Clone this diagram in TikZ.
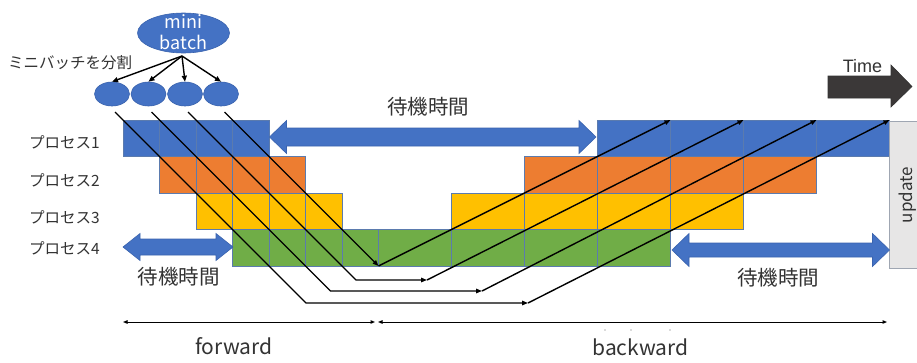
\documentclass[tikz,border=0pt]{standalone}
\usepackage{fontspec}
\setmainfont{Noto Sans CJK JP}
\newfontfamily\timefont{Liberation Sans}
\usetikzlibrary{arrows.meta,shapes.geometric}

\definecolor{pblue}{HTML}{4472C4}
\definecolor{pblueline}{HTML}{3A63AE}
\definecolor{porange}{HTML}{ED7D31}
\definecolor{pyellow}{HTML}{FFC000}
\definecolor{pgreen}{HTML}{70AD47}
\definecolor{cellline}{HTML}{5B7BAE}
\definecolor{darkarrow}{HTML}{3B3838}
\definecolor{updfill}{HTML}{E7E6E6}
\definecolor{updline}{HTML}{9FA6B2}
\definecolor{txt}{HTML}{333333}

% block double arrow: left tip x, right tip x, centre y, half head, half shaft
\newcommand\waitarrow[5]{%
  \path[blockarrow] (#1,#3) -- (#1+17,#3-#4) -- (#1+17,#3-#5) -- (#2-17,#3-#5)
    -- (#2-17,#3-#4) -- (#2,#3) -- (#2-17,#3+#4) -- (#2-17,#3+#5)
    -- (#1+17,#3+#5) -- (#1+17,#3+#4) -- cycle;}

\tikzset{
  cellbox/.style={draw=cellline, line width=0.8pt},
  blockarrow/.style={fill=pblue, draw=pblueline, line width=0.6pt},
  flow/.style={draw=black, line width=1.4pt, -{Triangle[length=6pt,width=4.5pt]}},
  dimline/.style={draw=black, line width=1pt, {Triangle[length=4.5pt,width=3.5pt]}-{Triangle[length=4.5pt,width=3.5pt]}},
  jtext/.style={text=txt, inner sep=0pt},
  smallmb/.style={ellipse, fill=pblue, draw=pblueline, line width=0.6pt,
    minimum width=35pt, minimum height=24pt, inner sep=0pt},
}

\begin{document}
\begin{tikzpicture}[x=1pt,y=-1pt]
\clip (0,0) rectangle (917,362);
\fill[white] (0,0) rectangle (917,362);

% mini batch and its split into micro batches
\node[ellipse, fill=pblue, draw=pblueline, line width=0.6pt,
      minimum width=92pt, minimum height=40pt, inner sep=0pt] (mb) at (183.5,33) {};
\node[text=white, align=center, font=\fontsize{18}{21}\selectfont, inner sep=0pt] (mbtext) at (183.5,32) {mini\\batch};
\node[jtext, anchor=west, font=\fontsize{15.5}{18}\selectfont] (split) at (8,63) {ミニバッチを分割};

\node[smallmb] (m1) at (112,94) {};
\node[smallmb] (m2) at (148.5,94) {};
\node[smallmb] (m3) at (185,94) {};
\node[smallmb] (m4) at (221,94) {};
\coordinate (fan) at (182,56);
\foreach \i in {1,...,4}
  \draw[black, line width=1.4pt, -{Triangle[length=6pt,width=5pt]}] (fan) -- (m\i.north);

% process labels
\foreach \r/\yy in {1/142,2/180,3/217,4/248}
  \node[jtext, anchor=west, font=\fontsize{15.5}{18}\selectfont] (p\r) at (29,\yy) {プロセス\r};

% forward cells
\foreach \r/\c in {1/pblue,2/porange,3/pyellow,4/pgreen}{
  \foreach \k in {0,...,3}{
    \pgfmathsetmacro\xa{123+36.5*(\r-1+\k)}
    \pgfmathsetmacro\ya{120+36.5*(\r-1)}
    \path[cellbox, fill=\c] (\xa,\ya) rectangle ++(36.5,36.5);
  }
}
% backward cells
\foreach \r/\c in {1/pblue,2/porange,3/pyellow,4/pgreen}{
  \foreach \k in {0,...,3}{
    \pgfmathsetmacro\xa{378.5+73*(4-\r+\k)}
    \pgfmathsetmacro\ya{120+36.5*(\r-1)}
    \path[cellbox, fill=\c] (\xa,\ya) rectangle ++(73,36.5);
  }
}

% update box
\path[fill=updfill, draw=updline, line width=0.8pt] (889.5,121) rectangle (935,268);
\node[rotate=90, text=txt, font=\fontsize{17}{20}\selectfont, inner sep=0pt] (upd) at (908,195) {update};

% waiting times
\waitarrow{269.5}{596}{137}{16.5}{9}
\waitarrow{123}{233}{247}{13.5}{8}
\waitarrow{672}{889.5}{250}{16.5}{7}
\node[jtext, font=\fontsize{20.5}{24}\selectfont] (w1) at (428,107) {待機時間};
\node[jtext, font=\fontsize{20.5}{24}\selectfont] (w2) at (178.5,277) {待機時間};
\node[jtext, font=\fontsize{20.5}{24}\selectfont] (w3) at (778,278) {待機時間};

% forward passes of the micro batches
\coordinate (s1) at (115,112);   \coordinate (t1) at (306,303);   \coordinate (e1) at (528,303);
\coordinate (s2) at (151.5,112); \coordinate (t2) at (330.5,291); \coordinate (e2) at (482,291);
\coordinate (s3) at (188,112);   \coordinate (t3) at (356,280);   \coordinate (e3) at (427,280);
\coordinate (s4) at (224.5,112); \coordinate (e4) at (378.5,266);
\draw[flow] (s1) -- (t1) -- (e1);
\draw[flow] (s2) -- (t2) -- (e2);
\draw[flow] (s3) -- (t3) -- (e3);
\draw[flow] (s4) -- (e4);

% backward passes
\coordinate (b1) at (889.5,120);
\coordinate (b2) at (816.5,120);
\coordinate (b3) at (743.5,120);
\coordinate (b4) at (670.5,120);
\foreach \i in {1,...,4}
  \draw[flow] (e\i) -- (b\i);

% time arrow
\path[fill=darkarrow, draw=black!80, line width=0.6pt]
  (828,76) -- (891,76) -- (891,65) -- (912,86.5) -- (891,107) -- (891,98) -- (828,98) -- cycle;
\node[anchor=base, text=txt, font=\timefont\fontsize{18}{21}\selectfont, inner sep=0pt] (time) at (862.5,72) {Time};

% forward / backward spans
\coordinate (f0) at (123,322);
\coordinate (f1) at (375,322);
\coordinate (k0) at (378,322);
\coordinate (k1) at (887,322);
\draw[dimline] (f0) -- (f1);
\draw[dimline] (k0) -- (k1);
\foreach \xx in {605,631,670}
  \fill[black!60] (\xx,330) circle (0.6);
\node[anchor=base, text=txt, font=\fontsize{21}{24}\selectfont, inner sep=0pt] (fw) at (234,354) {forward};
\node[anchor=base, text=txt, font=\fontsize{21}{24}\selectfont, inner sep=0pt] (bw) at (640.5,355) {backward};
\end{tikzpicture}
\end{document}
